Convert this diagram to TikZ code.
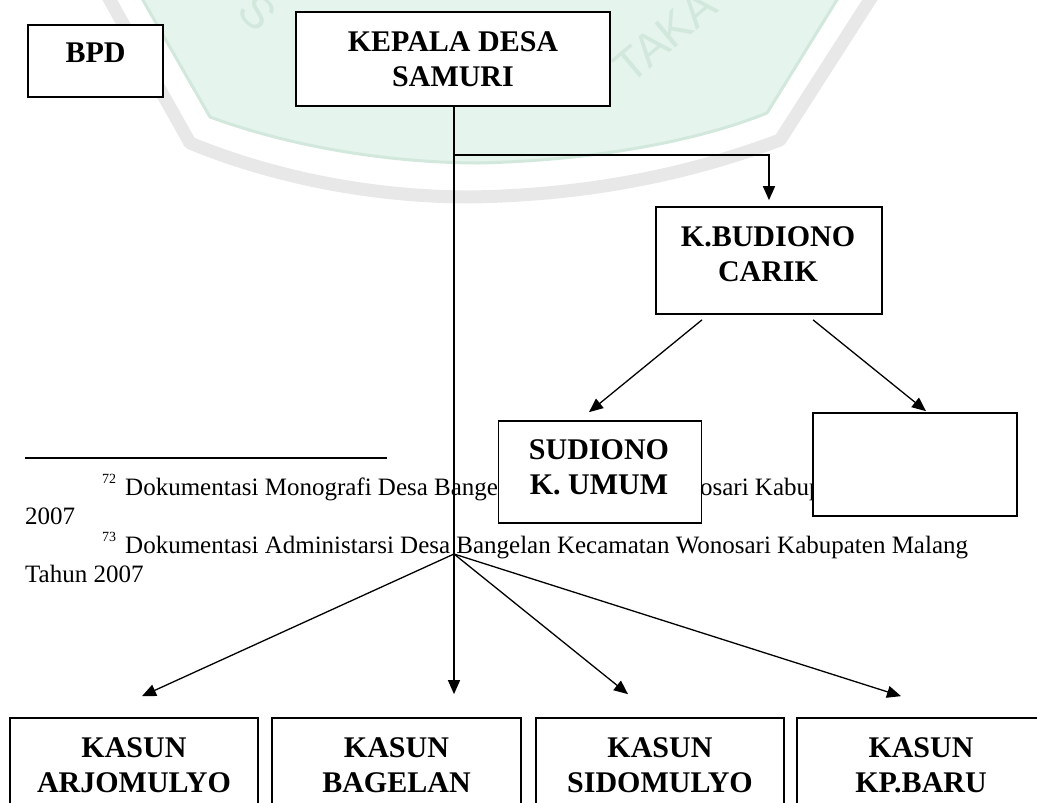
\documentclass[tikz,border=0pt]{standalone}
\usepackage{fontspec}
\setmainfont{Liberation Serif}
\newfontfamily\wmfont{Liberation Sans}
\usetikzlibrary{arrows.meta,calc}
\definecolor{wmgreen}{HTML}{E5F4ED}
\definecolor{wmedge}{HTML}{D3E8DD}
\definecolor{wmgrey}{HTML}{E8E8E8}
\tikzset{
  box/.style={draw, line width=1.7pt, fill=white, inner sep=0pt},
  boxtext/.style={font=\bfseries\fontsize{30}{35}\selectfont, align=center, inner sep=0pt},
  fntext/.style={font=\fontsize{25}{29}\selectfont, inner sep=0pt, anchor=base west},
  fnmark/.style={font=\fontsize{14}{14}\selectfont, inner sep=0pt, anchor=base west},
  conn/.style={line width=1.3pt, -{Triangle[length=14pt,width=12pt]}},
  wmtext/.style={font=\wmfont\fontsize{46}{46}\selectfont, text=wmedge, inner sep=0pt},
}
\begin{document}
\begin{tikzpicture}[x=1pt,y=-1pt]
\useasboundingbox (0,0) rectangle (1037,803);
\clip (0,0) rectangle (1037,803);
% watermark
\fill[wmgreen] (140,-5) -- (210,117) .. controls (300,150) and (400,163) .. (480,163)
  .. controls (600,160) and (700,140) .. (767,113) -- (840,-5) -- cycle;
\draw[wmedge, line width=3pt, line join=round] (140,-5) -- (210,117) .. controls (300,150) and (400,163) .. (480,163)
  .. controls (600,160) and (700,140) .. (767,113) -- (840,-5);
\draw[wmgrey, line width=13pt, line join=round] (107,-5) -- (190,143) .. controls (280,180) and (380,197) .. (470,197)
  .. controls (600,195) and (700,170) .. (780,140) -- (873,-5);
\node[wmtext, rotate=-45] (wmS) at (258,12) {S};
\node[wmtext, rotate=40] (wmT) at (665,36) {TAKA};
% footnotes
\coordinate (rl) at (25,458);
\coordinate (rr) at (387,458);
\draw[line width=1.5pt] (rl) -- (rr);
\node[fnmark] (m72) at (102,483) {72};
\node[fntext] (fn72) at (125,495) {Dokumentasi Monografi Desa Bangelan Kecamatan Wonosari Kabupaten Malang};
\node[fntext] (fn72b) at (25,524) {2007};
\node[fnmark] (m73) at (102,541) {73};
\node[fntext] (fn73) at (125,553) {Dokumentasi Administarsi Desa Bangelan Kecamatan Wonosari Kabupaten Malang};
\node[fntext] (fn73b) at (25,582) {Tahun 2007};
% boxes
\node[box, minimum width=135pt, minimum height=72pt] (bpd) at (95.5,61) {};
\node[box, minimum width=314pt, minimum height=94pt] (kades) at (453,59) {};
\node[box, minimum width=226pt, minimum height=107pt] (budiono) at (769,260.5) {};
\node[box, minimum width=203pt, minimum height=102pt] (sudiono) at (600,472) {};
\node[box, minimum width=204pt, minimum height=103pt] (empty) at (915,464.5) {};
\node[box, minimum width=248pt, minimum height=110pt] (k1) at (134,773) {};
\node[box, minimum width=249pt, minimum height=110pt] (k2) at (396.5,773) {};
\node[box, minimum width=248pt, minimum height=110pt] (k3) at (660,773) {};
\node[box, minimum width=248pt, minimum height=110pt] (k4) at (921,773) {};
\node[boxtext] (bpdT) at (95.5,53) {BPD};
\node[boxtext] (kadesT) at (453,59.5) {KEPALA DESA\\SAMURI};
\node[boxtext] (budionoT) at (768,254) {K.BUDIONO\\CARIK};
\node[boxtext] (sudionoT) at (599,467.5) {SUDIONO\\K. UMUM};
\node[boxtext] (k1T) at (134,765) {KASUN\\ARJOMULYO};
\node[boxtext] (k2T) at (396.5,765) {KASUN\\BAGELAN};
\node[boxtext] (k3T) at (660,765) {KASUN\\SIDOMULYO};
\node[boxtext] (k4T) at (921,765) {KASUN\\KP.BARU};
% connector points
\coordinate (hub) at (454,554);
\coordinate (j1) at (454,155);
\coordinate (tb) at ($(budiono.north)+(0,-6)$);
\coordinate (t1) at ($(k1.north)+(8,-21)$);
\coordinate (t2) at ($(k2.north -| hub)+(0,-23)$);
\coordinate (t3) at ($(k3.north)+(-32,-23)$);
\coordinate (t4) at ($(k4.north)+(-20,-21)$);
\coordinate (bl) at ($(budiono.south)+(-67,5)$);
\coordinate (br) at ($(budiono.south)+(44,5)$);
\coordinate (sl) at ($(sudiono.north)+(-11,-8)$);
\coordinate (sr) at ($(empty.north)+(11,-1)$);
% connectors
\draw[conn] (kades.south -| hub) -- (t2);
\draw[conn, line width=1.6pt] (j1) -| (tb);
\draw[conn] (hub) -- (t1);
\draw[conn] (hub) -- (t3);
\draw[conn] (hub) -- (t4);
\draw[conn] (bl) -- (sl);
\draw[conn] (br) -- (sr);
\end{tikzpicture}
\end{document}
